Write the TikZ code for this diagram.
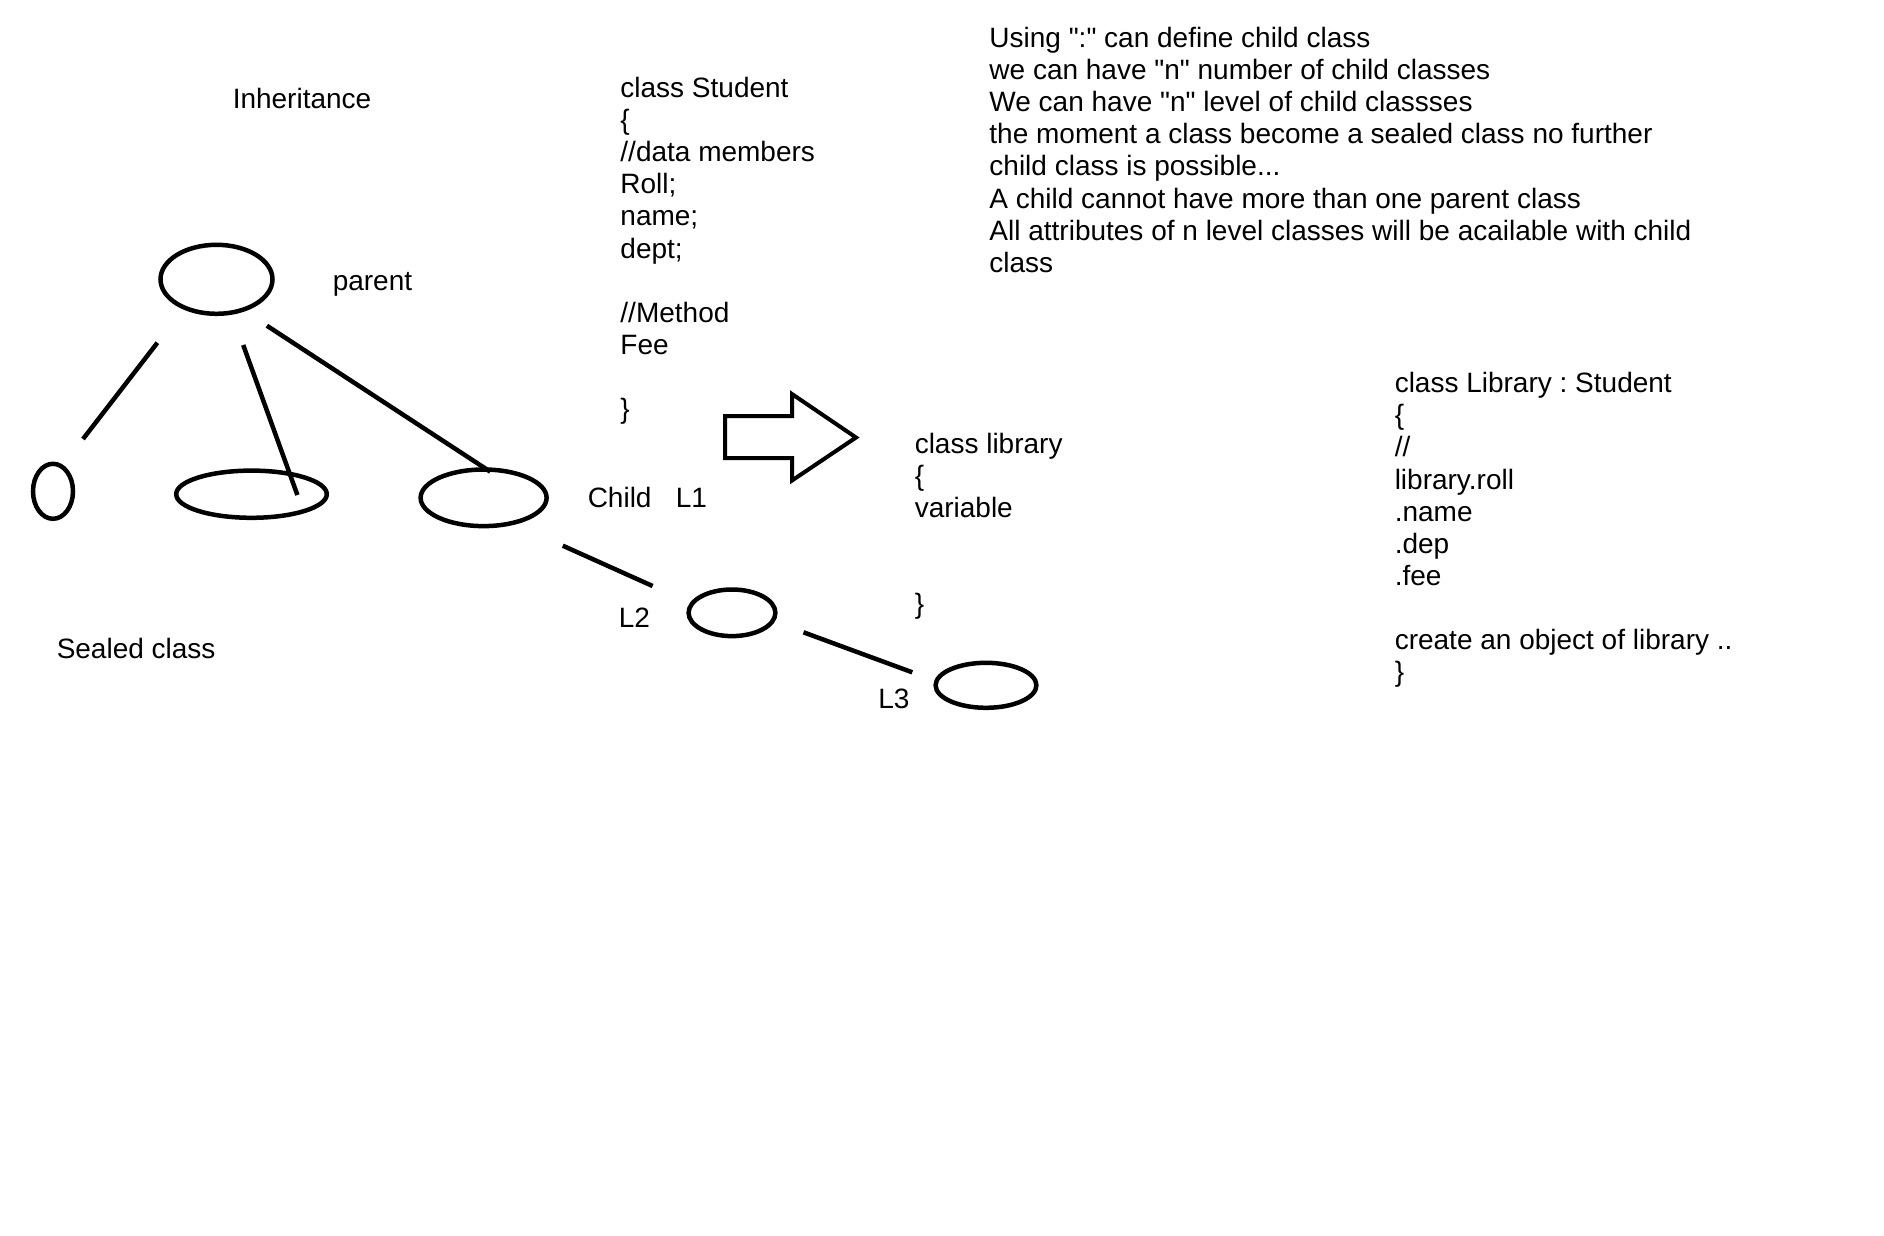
\documentclass[tikz,border=0pt]{standalone}
\usepackage{fontspec}
\setmainfont{Liberation Sans}[Ligatures=TeXOff]
\usetikzlibrary{shapes.geometric}
\frenchspacing

\begin{document}
\begin{tikzpicture}[x=1pt,y=-1pt,line width=4.5pt,
  txt/.style={anchor=base west,inner sep=0pt,align=left,font=\fontsize{28}{32.1}\selectfont},
  cls/.style={draw,ellipse,inner sep=0pt}]
  \useasboundingbox (0,0) rectangle (1884,1235);
  \node[txt] (title) at (230.5,108.3) {Inheritance};
  \node[txt] (lparent) at (330.5,290) {parent};
  \node[txt] (lsealed) at (54.5,658.3) {Sealed class};
  \node[txt] (lchild) at (585.5,507.3) {Child};
  \node[txt] (lone) at (673.5,507.3) {L1};
  \node[txt] (ltwo) at (616.5,627.7) {L2};
  \node[txt] (lthree) at (876,708.3) {L3};
  \node[cls,minimum width=112pt,minimum height=69pt] (parent) at (216.5,279.3) {};
  \node[cls,minimum width=40pt,minimum height=55pt] (sealed) at (53,491.3) {};
  \node[cls,minimum width=150.6pt,minimum height=47.2pt] (mid) at (251.5,494.2) {};
  \node[cls,minimum width=126pt,minimum height=56.6pt] (child) at (483.6,497.8) {};
  \node[cls,minimum width=86.8pt,minimum height=46.6pt] (two) at (732,612.8) {};
  \node[cls,minimum width=100.8pt,minimum height=45pt] (three) at (986,685.3) {};
  \coordinate (pa) at (157.4,342.7); \coordinate (sa) at (83,439);
  \coordinate (pb) at (243.2,345); \coordinate (mb) at (297.4,495);
  \coordinate (pc) at (266.9,325.7); \coordinate (cc) at (490.3,471.7);
  \coordinate (ca) at (562.8,545.7); \coordinate (ta) at (652.6,586);
  \coordinate (tb) at (803.5,632.3); \coordinate (hb) at (912.3,672.3);
  \draw (pa) -- (sa);
  \draw (pb) -- (mb);
  \draw (pc) -- (cc);
  \draw (ca) -- (ta);
  \draw (tb) -- (hb);
  \draw[line width=4pt,line join=miter] (725,416) -- (792,416) -- (792,394) -- (856,437.5)
    -- (792,480.5) -- (792,458) -- (725,458) -- cycle;
  \node[txt] (student) at (618.2,418.5) {class Student\\\{\\//data members\\Roll;\\name;\\dept;\\~\\//Method\\Fee\\~\\\}};
  \node[txt] (library) at (912.5,613.8) {class library\\\{\\variable\\~\\~\\\}};
  \node[txt] (rules) at (987.2,272.2) {Using ":" can define child class\\we can have "n" number of child classes\\We can have "n" level of child classses\\the moment a class become a sealed class no further\\child class is possible...\\A child cannot have more than one parent class\\All attributes of n level classes will be acailable with child\\class};
  \node[txt] (derived) at (1392.5,681.6) {class Library : Student\\\{\\//\\library.roll\\.name\\.dep\\.fee\\~\\create an object of library ..\\\}};
\end{tikzpicture}
\end{document}
